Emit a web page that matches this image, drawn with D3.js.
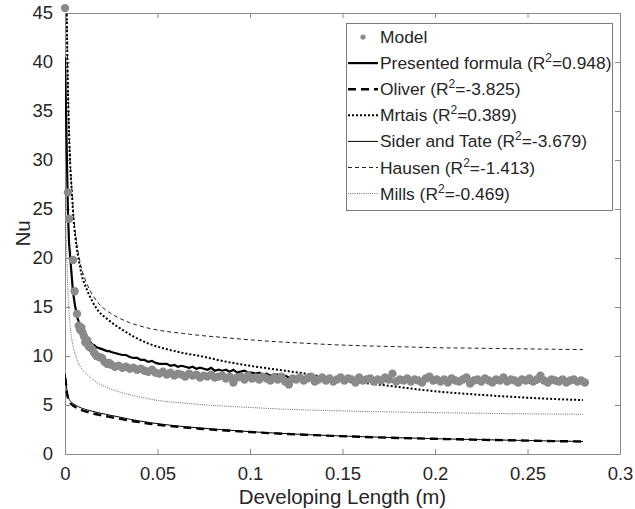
<!DOCTYPE html>
<html>
<head>
<meta charset="utf-8">
<script src="https://cdn.jsdelivr.net/npm/d3@7"></script>
<style>
  html, body { margin: 0; padding: 0; background: #fff; }
  svg { display: block; font-family: "Liberation Sans", Arial, sans-serif; }
</style>
</head>
<body>
<svg id="chart" width="635" height="509"></svg>
<script>
// x ticks / y ticks
const xTicks = [0, 0.05, 0.1, 0.15, 0.2, 0.25, 0.3];
const yTicks = [0, 5, 10, 15, 20, 25, 30, 35, 40, 45];

// model points (gray dots): dense head, then uniform 0.002 m grid
const modelXHead = [0, 0.0016, 0.0022, 0.0043, 0.0052, 0.0065, 0.0074, 0.0081, 0.0088, 0.0095, 0.0103, 0.011, 0.0119,
  0.0128, 0.0137, 0.0146, 0.0158, 0.017, 0.0185, 0.02, 0.0214, 0.0227, 0.0239];
const modelNuHead = [45.5, 26.7, 24.0, 19.8, 16.6, 14.3, 13.1, 12.7, 12.9, 12.4, 12.0, 11.4, 11.6,
  11.0, 10.9, 10.7, 10.3, 10.0, 9.9, 9.8, 9.4, 9.2, 9.3];
const presentedNuHead = [40.5, 24.5, 21.5, 16.6, 15.4, 14.0, 13.5, 13.1, 12.8, 12.5, 12.3, 12.0, 11.8,
  11.6, 11.4, 11.2, 11.1, 10.9, 10.8, 10.7, 10.6, 10.5, 10.5];
const tailStart = 0.025, tailStep = 0.002;
const modelNuTail = [
  9.1, 8.9, 9.0, 8.8, 8.9, 8.7, 8.8, 8.6, 8.7, 8.5,
  8.4, 8.6, 8.3, 8.2, 8.4, 8.1, 8.3, 8.0, 8.2, 8.1,
  7.9, 8.2, 8.0, 8.1, 7.8, 8.0, 7.9, 8.1, 7.8, 7.9,
  8.0, 7.7, 7.9, 7.3, 7.8, 7.9, 7.6, 8.0, 7.7, 7.8,
  7.6, 7.9, 7.7, 7.5, 7.8, 7.6, 7.9, 7.4, 7.1, 7.7,
  7.6, 7.8, 7.5, 7.7, 7.9, 7.4, 7.6, 7.8, 7.5, 7.7,
  7.4, 7.6, 7.8, 7.5, 7.7, 7.6, 7.3, 7.8, 7.5, 7.6,
  7.7, 7.4, 7.6, 7.5, 7.8, 7.6, 8.2, 7.4, 7.6, 7.5,
  7.7, 7.4, 7.6, 7.5, 7.3, 7.7, 7.9, 7.5, 7.6, 7.4,
  7.6, 7.3, 7.7, 7.5, 7.4, 7.6, 7.8, 7.2, 7.5, 7.6,
  7.4, 7.7, 7.5, 7.3, 7.6, 7.5, 7.8, 7.4, 7.6, 7.5,
  7.3, 7.6, 7.5, 7.7, 7.4, 7.6, 8.0, 7.5, 7.3, 7.6,
  7.5, 7.4, 7.6, 7.3, 7.5, 7.6, 7.4, 7.5, 7.3
];
const presentedNuTail = [
  10.4, 10.3, 10.2, 10.1, 10.1, 9.9, 9.8, 9.8, 9.6, 9.6,
  9.4, 9.5, 9.3, 9.2, 9.2, 9.2, 9.0, 9.1, 8.9, 9.0,
  8.9, 8.8, 8.9, 8.7, 8.8, 8.7, 8.6, 8.8, 8.5, 8.6,
  8.5, 8.6, 8.4, 8.6, 8.3, 8.4, 8.5, 8.3, 8.3, 8.2,
  8.3, 8.1, 8.2, 8.0, 8.1, 8.1, 7.9, 8.0, 7.8, 7.9,
  7.8, 7.9, 7.7, 7.8, 7.7, 7.6, 7.8, 7.6, 7.7, 7.6,
  7.5, 7.7, 7.6, 7.5, 7.6, 7.4, 7.6, 7.5, 7.6, 7.4,
  7.6, 7.5, 7.4, 7.6, 7.5, 7.6, 7.4, 7.5, 7.6, 7.4,
  7.5, 7.4, 7.6, 7.5, 7.3, 7.5, 7.6, 7.4, 7.5, 7.4,
  7.5, 7.3, 7.5, 7.4, 7.6, 7.4, 7.5, 7.3, 7.5, 7.4,
  7.3, 7.5, 7.4, 7.5, 7.3, 7.4, 7.5, 7.3, 7.4, 7.5,
  7.3, 7.4, 7.5, 7.3, 7.4, 7.3, 7.5, 7.4, 7.3, 7.4,
  7.5, 7.3, 7.4, 7.3, 7.4, 7.5, 7.3, 7.4, 7.3
];

// correlation curves, shared x
const curveX = [0, 0.0005, 0.001, 0.0015, 0.002, 0.0027, 0.0036, 0.0047, 0.006, 0.0075, 0.009, 0.012, 0.015, 0.018,
  0.022, 0.026, 0.03, 0.035, 0.04, 0.046, 0.055, 0.064, 0.073, 0.085, 0.1, 0.115, 0.13, 0.145, 0.16, 0.18, 0.2,
  0.22, 0.24, 0.26, 0.28];
const oliverNu = [7.8, 7.2, 6.3, 5.8, 5.5, 5.25, 5.05, 4.9, 4.75, 4.6, 4.48, 4.3, 4.15, 4.02,
  3.86, 3.72, 3.58, 3.4, 3.25, 3.08, 2.88, 2.72, 2.58, 2.42, 2.24, 2.09, 1.96, 1.85, 1.75, 1.64, 1.55,
  1.47, 1.4, 1.33, 1.27];
const mrtaisNu = [60, 52, 44, 38, 34, 30, 27, 23.8, 21.5, 19.7, 18.3, 16.7, 15.5, 14.6,
  13.9, 13.3, 12.8, 12.2, 11.7, 11.2, 10.7, 10.3, 10.0, 9.5, 9.0, 8.6, 8.2, 7.7, 7.3, 6.85, 6.4,
  6.1, 5.85, 5.65, 5.5];
const siderTateNu = [8.2, 7.6, 6.6, 6.0, 5.7, 5.45, 5.25, 5.1, 4.95, 4.8, 4.68, 4.5, 4.35, 4.22,
  4.05, 3.9, 3.75, 3.55, 3.38, 3.2, 2.98, 2.8, 2.65, 2.48, 2.28, 2.12, 1.98, 1.87, 1.77, 1.66, 1.56,
  1.48, 1.41, 1.34, 1.28];
const hausenNu = [60, 52, 44.5, 38.5, 34.5, 30.5, 27.3, 24.2, 22, 20.2, 18.9, 17.3, 16.2, 15.4,
  14.7, 14.2, 13.8, 13.4, 13.1, 12.8, 12.5, 12.3, 12.1, 11.9, 11.65, 11.45, 11.3, 11.15, 11.05, 10.95, 10.85,
  10.8, 10.75, 10.7, 10.65];
const millsNu = [27, 23, 20, 17, 15, 13.2, 11.8, 10.7, 9.9, 9.2, 8.7, 8.1, 7.6, 7.2,
  6.85, 6.55, 6.3, 6.05, 5.85, 5.6, 5.35, 5.2, 5.05, 4.9, 4.75, 4.6, 4.5, 4.42, 4.35, 4.28, 4.22,
  4.17, 4.12, 4.08, 4.05];

const legendNames = ['Model', 'Presented formula', 'Oliver', 'Mrtais', 'Sider and Tate', 'Hausen', 'Mills'];
const legendR2 = [null, '0.948', '-3.825', '0.389', '-3.679', '-1.413', '-0.469'];

const tailX = modelNuTail.map((_, i) => +(tailStart + i * tailStep).toFixed(4));
const modelX = modelXHead.concat(tailX);
const modelNu = modelNuHead.concat(modelNuTail);
const presentedNu = presentedNuHead.concat(presentedNuTail);

const svg = d3.select('#chart');
const margin = { left: 65, right: 15, top: 13, bottom: 55 };
const W = 635, H = 509;
const x = d3.scaleLinear().domain([0, 0.3]).range([margin.left, W - margin.right]);
const y = d3.scaleLinear().domain([0, 45]).range([H - margin.bottom, margin.top]);
const axisColor = '#8a8a8a';
const textColor = '#262626';

svg.append('defs').append('clipPath').attr('id', 'plotclip')
  .append('rect')
  .attr('x', x(0)).attr('y', y(45))
  .attr('width', x(0.3) - x(0)).attr('height', y(0) - y(45));

// axes (MATLAB-style box with inward ticks)
function styleAxis(g, hideText) {
  g.select('.domain').attr('stroke', axisColor);
  g.selectAll('.tick line').attr('stroke', axisColor);
  g.selectAll('.tick text').attr('fill', textColor).attr('font-size', 18.5)
    .style('display', hideText ? 'none' : null);
}
const fmt = d => d3.format('~g')(d);
svg.append('g').attr('transform', `translate(0,${y(0)})`)
  .call(d3.axisBottom(x).tickValues(xTicks).tickFormat(fmt).tickSizeInner(-5).tickSizeOuter(0).tickPadding(13))
  .call(g => styleAxis(g, false));
svg.append('g').attr('transform', `translate(0,${y(45)})`)
  .call(d3.axisTop(x).tickValues(xTicks).tickSizeInner(-5).tickSizeOuter(0))
  .call(g => styleAxis(g, true));
svg.append('g').attr('transform', `translate(${x(0)},0)`)
  .call(d3.axisLeft(y).tickValues(yTicks).tickFormat(fmt).tickSizeInner(-5).tickSizeOuter(0).tickPadding(12))
  .call(g => styleAxis(g, false));
svg.append('g').attr('transform', `translate(${x(0.3)},0)`)
  .call(d3.axisRight(y).tickValues(yTicks).tickSizeInner(-5).tickSizeOuter(0))
  .call(g => styleAxis(g, true));
svg.selectAll('.tick text').attr('font-family', '"Liberation Sans", Arial, sans-serif');

// axis labels
svg.append('text')
  .attr('x', (x(0) + x(0.3)) / 2).attr('y', 504)
  .attr('text-anchor', 'middle').attr('font-size', 20.5).attr('fill', textColor)
  .text('Developing Length (m)');
svg.append('text')
  .attr('transform', `translate(30,${(y(0) + y(45)) / 2}) rotate(-90)`)
  .attr('text-anchor', 'middle').attr('font-size', 20.5).attr('fill', textColor)
  .text('Nu');

// series styles
const styles = {
  presented: { stroke: '#000', width: 2.2, dash: null },
  oliver: { stroke: '#000', width: 2.4, dash: '8,5' },
  mrtais: { stroke: '#000', width: 2, dash: '2,2' },
  sider: { stroke: '#000', width: 1, dash: null },
  hausen: { stroke: '#222', width: 1, dash: '4,3' },
  mills: { stroke: '#555', width: 0.9, dash: '1,1.2' }
};

const plot = svg.append('g').attr('clip-path', 'url(#plotclip)');
const smoothLine = d3.line().x((d, i) => x(curveX[i])).y(d => y(d)).curve(d3.curveMonotoneX);
const rawLine = d3.line().x((d, i) => x(modelX[i])).y(d => y(d));

function drawPath(g, d, gen, s) {
  g.append('path')
    .attr('d', gen(d))
    .attr('fill', 'none')
    .attr('stroke', s.stroke)
    .attr('stroke-width', s.width)
    .attr('stroke-dasharray', s.dash);
}

// model dots first
svg.append('g').selectAll('circle')
  .data(modelNu)
  .join('circle')
  .attr('cx', (d, i) => x(modelX[i]))
  .attr('cy', d => y(d))
  .attr('r', 4.2)
  .attr('fill', '#8a8a8a');

drawPath(plot, millsNu, smoothLine, styles.mills);
drawPath(plot, hausenNu, smoothLine, styles.hausen);
drawPath(plot, mrtaisNu, smoothLine, styles.mrtais);
drawPath(plot, oliverNu, smoothLine, styles.oliver);
drawPath(plot, siderTateNu, smoothLine, styles.sider);
drawPath(plot, presentedNu, rawLine, styles.presented);

// legend
const legendStyles = [null, styles.presented, styles.oliver, styles.mrtais, styles.sider, styles.hausen, styles.mills];
const lg = svg.append('g');
lg.append('rect')
  .attr('x', 346.5).attr('y', 23.5).attr('width', 266).attr('height', 187)
  .attr('fill', '#fff').attr('stroke', '#7a7a7a').attr('stroke-width', 1);
legendNames.forEach((name, i) => {
  const cy = 37 + i * 26.1;
  const s = legendStyles[i];
  if (s === null) {
    lg.append('circle').attr('cx', 363).attr('cy', cy).attr('r', 2.6).attr('fill', '#8a8a8a');
  } else {
    lg.append('line')
      .attr('x1', 348).attr('x2', 378).attr('y1', cy).attr('y2', cy)
      .attr('stroke', s.stroke).attr('stroke-width', s.width).attr('stroke-dasharray', s.dash);
  }
  const t = lg.append('text')
    .attr('x', 380).attr('y', cy + 6)
    .attr('font-size', 17.4).attr('fill', textColor);
  if (legendR2[i] === null) {
    t.text(name);
  } else {
    t.append('tspan').text(`${name} (R`);
    t.append('tspan').attr('font-size', 12).attr('dy', -7).text('2');
    t.append('tspan').attr('dy', 7).text(`=${legendR2[i]})`);
  }
});
</script>
</body>
</html>
